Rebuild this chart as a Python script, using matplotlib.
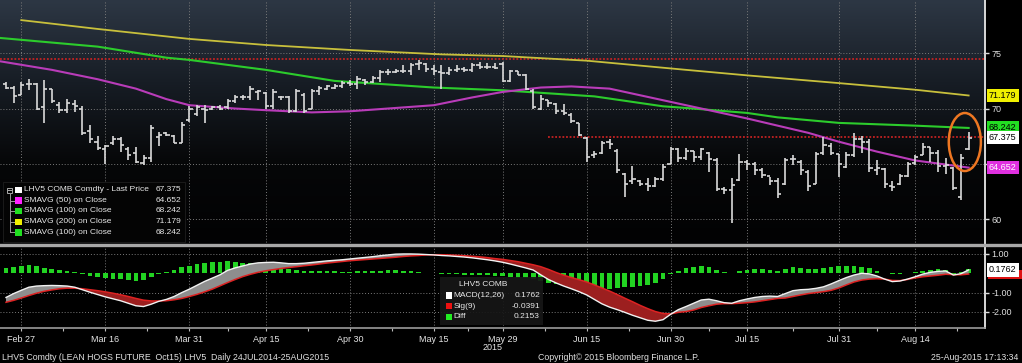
import numpy as np
import pandas as pd
import matplotlib
matplotlib.use('Agg')
import matplotlib.pyplot as plt
from matplotlib.patches import Rectangle, Ellipse
from matplotlib.lines import Line2D
from matplotlib.colors import LinearSegmentedColormap

plt.rcParams['font.family'] = ['Liberation Sans', 'DejaVu Sans']

# ---------------- data ----------------
holidays = ['2015-04-03', '2015-05-25', '2015-07-03']
dates = pd.bdate_range('2015-02-25', '2015-08-25', freq='C', holidays=holidays)

highs = [72.4, 72.0, 72.4, 72.7, 72.3, 72.6, 71.8, 70.6, 70.9, 70.8,
         70.2, 68.5, 67.5, 66.7, 67.5, 67.45, 66.55, 66.55, 65.8, 68.5,
         67.9, 67.9, 67.6, 68.8, 70.2, 70.3, 70.3, 70.2, 70.3, 70.9,
         71.2, 71.2, 72.0, 71.7, 71.5, 71.8, 71.1, 71.1, 71.8, 71.4,
         71.8, 72.0, 72.1, 72.2, 72.5, 72.6, 72.9, 72.7, 72.9, 73.5,
         73.6, 73.6, 73.9, 74.1, 74.4, 74.1, 73.9, 73.9, 73.8, 73.9,
         73.8, 74.1, 74.2, 74.1, 74.1, 74.2, 73.5, 73.4, 73.1, 71.8,
         71.2, 70.8, 70.5, 70.4, 69.6, 68.7, 67.4, 66.2, 67.1, 67.2,
         66.3, 64.2, 64.8, 63.5, 63.7, 63.8, 65.0, 66.5, 66.4, 66.4,
         66.2, 66.4, 66.1, 65.5, 62.9, 63.7, 65.9, 65.3, 65.2, 64.6,
         63.8, 63.7, 65.5, 65.8, 65.3, 64.4, 66.1, 67.45, 66.85, 65.9,
         66.1, 67.8, 67.5, 67.2, 65.3, 64.6, 63.4, 64.1, 65.2, 65.8,
         66.85, 66.55, 66.25, 65.5, 64.7, 65.9, 67.9]
lows = [71.8, 70.5, 71.2, 71.7, 69.9, 68.7, 70.5, 69.6, 69.6, 69.7,
        67.6, 66.9, 66.25, 65.0, 66.7, 66.1, 65.35, 65.05, 64.9, 65.2,
        66.6, 67.5, 66.9, 66.85, 68.8, 69.3, 68.7, 69.9, 69.9, 70.0,
        70.5, 70.8, 70.8, 70.8, 70.0, 70.0, 70.8, 69.6, 69.7, 69.6,
        70.0, 71.2, 71.7, 71.8, 71.9, 72.0, 71.8, 72.1, 72.3, 72.4,
        73.0, 73.2, 73.2, 73.0, 73.5, 73.3, 73.0, 71.8, 73.0, 73.3,
        73.3, 73.3, 73.6, 73.6, 73.6, 72.4, 72.4, 73.0, 71.7, 70.0,
        69.9, 70.1, 69.5, 69.4, 68.7, 67.5, 65.2, 65.5, 65.9, 66.3,
        64.2, 62.0, 63.2, 63.0, 62.5, 62.9, 63.4, 65.0, 65.2, 65.3,
        65.2, 65.3, 64.3, 62.5, 62.3, 59.6, 63.4, 64.4, 64.0, 63.7,
        63.1, 61.9, 63.1, 64.9, 64.0, 62.5, 63.2, 65.8, 65.8, 63.8,
        64.6, 65.6, 66.0, 64.3, 64.0, 62.8, 62.5, 63.1, 63.8, 64.9,
        65.8, 65.2, 64.3, 64.1, 62.6, 61.7, 66.25]
opens = [72.2, 71.9, 71.2, 72.2, 72.2, 70.1, 71.8, 70.3, 69.9, 70.4,
         70.0, 68.0, 67.0, 66.3, 66.9, 67.2, 66.3, 66.0, 65.1, 65.5,
         67.4, 67.8, 67.5, 66.9, 69.0, 69.5, 70.0, 70.0, 70.1, 70.1,
         70.7, 71.0, 71.0, 71.5, 71.4, 70.2, 71.0, 71.0, 69.8, 71.2,
         70.0, 71.6, 71.8, 71.9, 72.0, 72.3, 72.2, 72.6, 72.4, 72.8,
         73.3, 73.3, 73.4, 73.4, 74.0, 74.0, 73.6, 73.3, 73.2, 73.5,
         73.6, 73.5, 73.9, 73.8, 73.8, 74.0, 72.5, 73.4, 73.0, 71.6,
         70.0, 70.8, 70.4, 69.8, 69.4, 68.7, 67.3, 65.8, 66.0, 67.0,
         66.2, 64.1, 63.4, 63.4, 63.2, 63.0, 63.6, 65.0, 66.3, 65.5,
         66.2, 65.6, 66.0, 65.3, 62.7, 62.6, 63.5, 65.2, 65.0, 64.4,
         63.9, 63.4, 63.2, 65.4, 65.2, 64.3, 63.2, 66.0, 66.6, 65.9,
         64.7, 65.8, 67.2, 67.0, 64.4, 64.5, 63.0, 63.2, 63.9, 65.1,
         65.8, 66.5, 66.0, 64.8, 64.6, 62.0, 66.3]
closes = [71.9, 71.1, 72.1, 72.2, 70.0, 71.8, 70.7, 69.9, 70.5, 70.2,
          67.8, 67.2, 66.4, 66.6, 67.2, 66.7, 65.8, 65.2, 65.5, 68.2,
          67.6, 67.6, 66.9, 68.5, 70.0, 70.1, 69.9, 70.1, 70.0, 70.7,
          71.0, 71.0, 71.8, 71.6, 70.2, 71.5, 71.0, 69.8, 71.6, 69.8,
          71.6, 71.9, 72.0, 72.0, 72.3, 72.2, 72.7, 72.4, 72.8, 73.3,
          73.3, 73.4, 73.4, 73.9, 74.1, 73.6, 73.4, 73.2, 73.5, 73.6,
          73.5, 73.9, 73.8, 73.8, 73.7, 72.5, 73.4, 73.0, 71.8, 70.1,
          70.9, 70.5, 69.8, 69.6, 68.9, 67.6, 65.6, 65.9, 66.9, 66.8,
          64.4, 63.2, 63.6, 63.2, 63.0, 63.6, 64.7, 66.3, 65.5, 66.2,
          65.6, 66.3, 65.4, 62.7, 62.6, 63.1, 65.2, 65.0, 64.4, 64.0,
          63.4, 62.3, 65.3, 65.4, 64.4, 63.0, 65.9, 66.7, 66.0, 65.0,
          65.8, 67.2, 67.0, 64.6, 64.6, 63.2, 62.9, 63.9, 65.0, 65.6,
          66.5, 66.0, 64.8, 64.9, 62.8, 65.5, 67.375]

sma200_idx = [2, 12, 24, 34, 45, 57, 65, 76, 89, 97, 109, 119, 126]
sma200_val = [78.0, 77.2, 76.3, 75.75, 75.3, 74.9, 74.75, 74.33, 73.5, 73.0, 72.3, 71.7, 71.179]
sma100_idx = [-1, 12, 21, 24, 34, 43, 56, 65, 77, 86, 89, 97, 101, 109, 119, 126]
sma100_val = [76.4, 75.6, 74.6, 74.4, 73.5, 72.5, 71.9, 71.65, 71.1, 70.2, 70.05, 69.6, 69.2, 68.7, 68.45, 68.242]
sma50_idx = [-1, 6, 12, 17, 21, 24, 30, 34, 40, 45, 52, 56, 61, 65, 70, 74, 79, 83, 89, 97, 105, 109, 114, 119, 126]
sma50_val = [74.3, 73.5, 72.65, 71.8, 70.85, 70.3, 70.0, 69.85, 69.65, 69.75, 70.1, 70.3, 71.0, 71.5, 71.9, 72.0,
             71.8, 71.2, 70.3, 69.1, 67.8, 67.0, 66.1, 65.3, 64.652]

macd = [-1.25, -1.05, -0.88, -0.72, -0.66, -0.64, -0.63, -0.64, -0.66, -0.72,
        -0.85, -0.98, -1.10, -1.22, -1.32, -1.42, -1.55, -1.68, -1.72, -1.60,
        -1.45, -1.35, -1.20, -1.00, -0.82, -0.62, -0.42, -0.25, -0.08, 0.15,
        0.28, 0.38, 0.48, 0.54, 0.56, 0.57, 0.54, 0.50, 0.50, 0.52,
        0.56, 0.60, 0.64, 0.67, 0.70, 0.74, 0.78, 0.82, 0.86, 0.91,
        0.95, 0.99, 1.00, 1.00, 0.99, 0.97, 0.95, 0.92, 0.90, 0.87,
        0.84, 0.80, 0.75, 0.70, 0.64, 0.57, 0.48, 0.38, 0.28, 0.17,
        -0.08, -0.32, -0.50, -0.66, -0.80, -0.95, -1.12, -1.35, -1.58, -1.75,
        -1.88, -2.02, -2.17, -2.30, -2.43, -2.48, -2.40, -2.12, -1.88, -1.72,
        -1.55, -1.38, -1.34, -1.42, -1.52, -1.55, -1.42, -1.33, -1.25, -1.20,
        -1.18, -1.20, -1.05, -0.90, -0.85, -0.83, -0.78, -0.70, -0.55, -0.38,
        -0.22, -0.09, 0.00, -0.03, -0.14, -0.30, -0.43, -0.40, -0.30, -0.18,
        -0.04, 0.05, 0.10, 0.12, -0.09, -0.02, 0.1762]
signal = [-1.50, -1.40, -1.28, -1.15, -1.03, -0.93, -0.86, -0.80, -0.77, -0.77,
          -0.80, -0.85, -0.90, -0.96, -1.03, -1.11, -1.20, -1.30, -1.39, -1.43,
          -1.43, -1.42, -1.37, -1.30, -1.20, -1.09, -0.96, -0.82, -0.65, -0.48,
          -0.32, -0.17, -0.05, 0.05, 0.13, 0.19, 0.25, 0.30, 0.34, 0.39,
          0.43, 0.48, 0.53, 0.57, 0.61, 0.65, 0.68, 0.71, 0.74, 0.77,
          0.80, 0.83, 0.87, 0.90, 0.92, 0.95, 0.96, 0.96, 0.95, 0.93,
          0.91, 0.88, 0.85, 0.81, 0.76, 0.72, 0.66, 0.60, 0.52, 0.44,
          0.34, 0.20, 0.04, -0.10, -0.22, -0.33, -0.45, -0.60, -0.76, -0.92,
          -1.10, -1.29, -1.47, -1.66, -1.83, -1.98, -2.08, -2.10, -2.02, -1.98,
          -1.90, -1.77, -1.68, -1.60, -1.57, -1.57, -1.55, -1.52, -1.48, -1.42,
          -1.36, -1.30, -1.28, -1.20, -1.12, -1.05, -1.00, -0.95, -0.88, -0.76,
          -0.60, -0.45, -0.35, -0.30, -0.28, -0.30, -0.37, -0.38, -0.32, -0.24,
          -0.18, -0.14, -0.10, -0.05, -0.07, -0.08, -0.0391]

tick_dates = ['2015-02-27', '2015-03-16', '2015-03-31', '2015-04-15', '2015-04-30', '2015-05-15',
              '2015-05-29', '2015-06-15', '2015-06-30', '2015-07-15', '2015-07-31', '2015-08-14']
tick_labels = ['Feb 27', 'Mar 16', 'Mar 31', 'Apr 15', 'Apr 30', 'May 15',
               'May 29', 'Jun 15', 'Jun 30', 'Jul 15', 'Jul 31', 'Aug 14']

legend_names = ['LHV5 COMB Comdty - Last Price', 'SMAVG (50) on Close', 'SMAVG (100) on Close',
                'SMAVG (200) on Close', 'SMAVG (100) on Close']
legend_values = ['67.375', '64.652', '68.242', '71.179', '68.242']
macd_legend_names = ['MACD(12,26)', 'Sig(9)', 'Diff']
macd_legend_values = ['0.1762', '-0.0391', '0.2153']
resistance_high = 74.45
resistance_low = 67.4

# ---------------- derived ----------------
idx = np.arange(len(dates))
H = np.array(highs); L = np.array(lows); O = np.array(opens); C = np.array(closes)
M = np.array(macd); S = np.array(signal); D = M - S
tick_idx = [dates.get_loc(pd.Timestamp(d)) for d in tick_dates]
minor_idx = [(a + b) / 2 for a, b in zip(tick_idx[:-1], tick_idx[1:])] + [tick_idx[-1] + 5.5]

W, Hpx = 1022, 363
def fx(x):
    return x / W
def fy(y):
    return 1 - y / Hpx

fig = plt.figure(figsize=(W / 100, Hpx / 100), dpi=100, facecolor='black')
ax1 = fig.add_axes([0, fy(245), fx(985), 245 / Hpx])
ax2 = fig.add_axes([0, fy(328), fx(985), 81 / Hpx], sharex=ax1)

x0, x1 = -0.785, 128.14
ylo, yhi = 57.65, 79.82

# gradient background
cmap = LinearSegmentedColormap.from_list('bg', ['#2d3744', '#171d25', '#060708', '#020203'])
grad = np.linspace(0, 1, 256).reshape(-1, 1)
ax1.imshow(grad, extent=[x0, x1, ylo, yhi], aspect='auto', cmap=cmap, zorder=0, origin='upper')
ax1.set_xlim(x0, x1)
ax1.set_ylim(ylo, yhi)
ax1.set_facecolor('black')
ax2.set_facecolor('black')

grid_kw = dict(color='#7a7a7a', lw=0.7, ls=(0, (1, 2)))
for t in tick_idx:
    ax1.axvline(t, zorder=1, **grid_kw)
    ax2.axvline(t, zorder=1, **grid_kw)
for v in [60, 65, 70, 75]:
    ax1.axhline(v, zorder=1, **grid_kw)
for v in [1, -1, -2]:
    ax2.axhline(v, zorder=1, **grid_kw)

# resistance lines
ax1.hlines(resistance_high, x0, x1, colors='#c42222', lw=1.3, ls=(0, (1, 1)), zorder=2)
ax1.hlines(resistance_low, 71, x1, colors='#c42222', lw=1.3, ls=(0, (1, 1)), zorder=2)

# moving averages
ax1.plot(sma200_idx, sma200_val, color='#c8c03c', lw=1.3, zorder=3)
ax1.plot(sma100_idx, sma100_val, color='#2ccc2c', lw=1.5, zorder=3)
ax1.plot(sma50_idx, sma50_val, color='#b93cb9', lw=1.5, zorder=3)

# OHLC bars
bc = '#dadada'
ax1.vlines(idx, L, H, colors=bc, lw=1.2, zorder=4)
ax1.hlines(O, idx - 0.42, idx, colors=bc, lw=1.2, zorder=4)
ax1.hlines(C, idx, idx + 0.42, colors=bc, lw=1.2, zorder=4)

# highlight ellipse
ax1.add_patch(Ellipse((125.5, 66.97), 4.2, 5.25, fill=False, ec='#ee7722', lw=1.8, zorder=6))

# axes styling
for ax in (ax1, ax2):
    for s in ['top', 'left', 'bottom']:
        ax.spines[s].set_visible(False)
    ax.spines['right'].set_color('#d8d8d8')
    ax.spines['right'].set_linewidth(1.4)
    ax.yaxis.tick_right()
ax2.spines['bottom'].set_visible(True)
ax2.spines['bottom'].set_color('#9a9a9a')
ax2.spines['bottom'].set_linewidth(1.2)

ax1.set_yticks([60, 65, 70, 75])
ax1.set_yticklabels(['60', '', '70', '75'])
ax1.tick_params(axis='y', colors='#dddddd', labelsize=6.5, length=3, width=1, pad=1.5)
ax1.tick_params(axis='x', length=0, labelbottom=False)

# MACD panel
ax2.set_ylim(-2.83, 1.36)
ax2.bar(idx, D, width=0.62, color='#22d322', zorder=2)
ax2.fill_between(idx, M, S, where=M >= S, interpolate=True, color='#8e8e8e', lw=0, zorder=3)
ax2.fill_between(idx, M, S, where=M < S, interpolate=True, color='#9c1f1f', lw=0, zorder=3)
ax2.plot(idx, S, color='#dd2222', lw=1.1, zorder=4)
ax2.plot(idx, M, color='#f2f2f2', lw=1.0, zorder=5)
ax2.set_yticks([1, -1, -2])
ax2.set_yticklabels(['1.00', '-1.00', '-2.00'])
ax2.tick_params(axis='y', colors='#dddddd', labelsize=6.5, length=3, width=1, pad=1.5)
ax2.set_xticks(tick_idx)
ax2.set_xticklabels(tick_labels)
ax2.set_xticks(minor_idx, minor=True)
ax2.tick_params(axis='x', which='both', colors='#bbbbbb', labelcolor='#e6e6e6', labelsize=6.5,
                length=2.5, width=0.8, pad=2.5, direction='out')

# value tags on the right
def tag(ax, val, txt, fc, tc):
    ax.annotate(txt, xy=(1.004, val), xycoords=('axes fraction', 'data'), ha='left', va='center',
                fontsize=6.5, color=tc, annotation_clip=False, zorder=10,
                bbox=dict(boxstyle='square,pad=0.25', fc=fc, ec='none'))

tag(ax1, 71.179, '71.179', '#f0f000', 'black')
tag(ax1, 68.242, '68.242', '#22dd22', 'black')
tag(ax1, 67.375, '67.375', 'white', 'black')
tag(ax1, 64.652, '64.652', '#e030e0', 'white')
# signal tag (mostly hidden under the MACD tag)
ax2.add_patch(Rectangle((fx(988), fy(279)), fx(34), 9 / Hpx, transform=fig.transFigure,
                        fc='#dd1111', ec='none', zorder=9, clip_on=False))
tag(ax2, 0.1762, '0.1762', 'white', 'black')

# separator between panels
fig.add_artist(Line2D([0, 1], [fy(245), fy(245)], transform=fig.transFigure, color='#a8a8a8', lw=2.4))

# price legend
fig.add_artist(Rectangle((fx(3), fy(242)), fx(182), 60 / Hpx, transform=fig.transFigure,
                         fc='#040404', ec='#1e1e1e', lw=0.6, zorder=5))
leg_colors = ['white', '#ff20ff', '#20e020', '#f0f000', '#20e020']
row_y = [190, 200.5, 211, 221.7, 232.3]
for k, (nm, vv, cc, yy) in enumerate(zip(legend_names, legend_values, leg_colors, row_y)):
    fig.add_artist(Rectangle((fx(15), fy(yy + 3.3)), fx(6.5), 6.5 / Hpx, transform=fig.transFigure,
                             fc=cc, ec='none', zorder=6))
    fig.text(fx(24.5), fy(yy), nm, color='#e8e8e8', fontsize=6.0, va='center', ha='left', zorder=7)
    fig.text(fx(181), fy(yy), vv, color='#e8e8e8', fontsize=6.0, va='center', ha='right', zorder=7)
    if k > 0:
        fig.add_artist(Line2D([fx(9.5), fx(14)], [fy(yy), fy(yy)], transform=fig.transFigure,
                              color='#9a9a9a', lw=0.7, zorder=6))
fig.add_artist(Rectangle((fx(7), fy(192.5)), fx(5), 5 / Hpx, transform=fig.transFigure,
                         fc='none', ec='#aaaaaa', lw=0.7, zorder=6))
fig.add_artist(Line2D([fx(8), fx(11)], [fy(190), fy(190)], transform=fig.transFigure,
                      color='#aaaaaa', lw=0.7, zorder=6))
fig.add_artist(Line2D([fx(9.5), fx(9.5)], [fy(192.5), fy(232.3)], transform=fig.transFigure,
                      color='#9a9a9a', lw=0.7, zorder=6))

# MACD legend
fig.add_artist(Rectangle((fx(440), fy(325)), fx(103), 48 / Hpx, transform=fig.transFigure,
                         fc='#161616', ec='none', alpha=0.92, zorder=5))
fig.text(fx(507), fy(285), 'LHV5 COMB', color='#e8e8e8', fontsize=6.0, va='center', ha='right', zorder=7)
m_colors = ['white', '#ee1111', '#22ee22']
m_rows = [295.5, 306, 316.7]
for nm, vv, cc, yy in zip(macd_legend_names, macd_legend_values, m_colors, m_rows):
    fig.add_artist(Rectangle((fx(445.5), fy(yy + 3.3)), fx(6.5), 6.5 / Hpx, transform=fig.transFigure,
                             fc=cc, ec='none', zorder=6))
    fig.text(fx(453.5), fy(yy), nm, color='#e8e8e8', fontsize=6.0, va='center', ha='left', zorder=7)
    fig.text(fx(540), fy(yy), vv, color='#e8e8e8', fontsize=6.0, va='center', ha='right', zorder=7)

# year and footer
fig.text(fx(493), fy(347.5), '2015', color='#e6e6e6', fontsize=6.5, va='center', ha='center')
fig.text(fx(2), fy(357), 'LHV5 Comdty (LEAN HOGS FUTURE  Oct15) LHV5  Daily 24JUL2014-25AUG2015',
         color='#e0e0e0', fontsize=6.3, va='center', ha='left')
fig.text(fx(538), fy(357), 'Copyright\u00a9 2015 Bloomberg Finance L.P.',
         color='#e0e0e0', fontsize=6.3, va='center', ha='left')
fig.text(fx(1018), fy(357), '25-Aug-2015 17:13:34', color='#e0e0e0', fontsize=6.3, va='center', ha='right')

fig.savefig('out.png', dpi=100, facecolor='black')
